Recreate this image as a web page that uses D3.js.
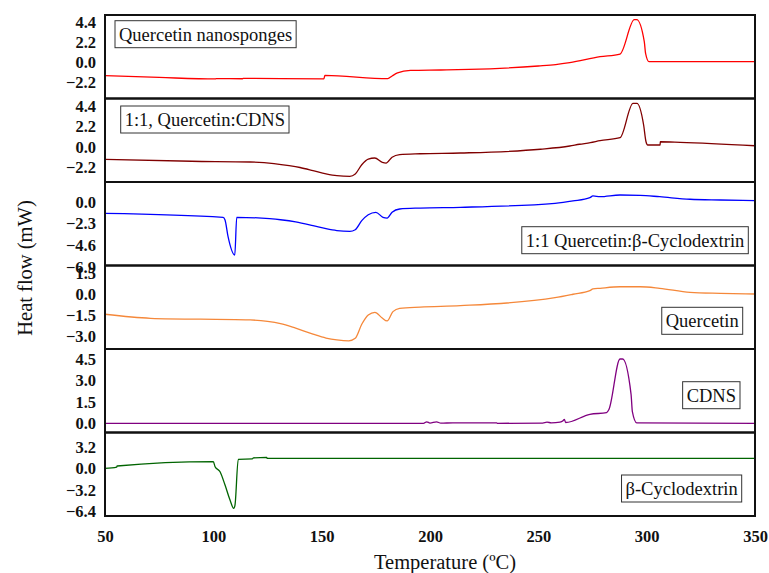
<!DOCTYPE html>
<html>
<head>
<meta charset="utf-8">
<script src="https://cdn.jsdelivr.net/npm/d3@7"></script>
<style>
  body { margin: 0; background: #fff; }
  text { font-family: "Liberation Serif", "Times New Roman", serif; }
</style>
</head>
<body>
<svg width="769" height="573"></svg>
<script>
// temperature ticks (°C)
const xTicks = [50, 100, 150, 200, 250, 300, 350];

// heat flow ticks for each panel, top to bottom
const yTicksNano = [-2.2, 0, 2.2, 4.4];
const yTicksQcdns = [-2.2, 0, 2.2, 4.4];
const yTicksQbcd = [-6.9, -4.6, -2.3, 0];
const yTicksQuer = [-3.0, -1.5, 0, 1.5];
const yTicksCdns = [0, 1.5, 3.0, 4.5];
const yTicksBcd = [-6.4, -3.2, 0, 3.2];

const seriesNames = [
  "Quercetin nanosponges",
  "1:1, Quercetin:CDNS",
  "1:1 Quercetin:\u03b2-Cyclodextrin",
  "Quercetin",
  "CDNS",
  "\u03b2-Cyclodextrin"
];

// [temperature, heat flow]
const nanoData = [[50,-1.45],[75,-1.64],[101,-1.80],[101.3,-1.76],[113.5,-1.78],[113.8,-1.73],[151,-1.80],[151.5,-1.42],
  [180.5,-1.77],[182.5,-1.48],[185,-1.15],[191,-0.88],[205,-0.83],[218,-0.77],[250,-0.40],[258,-0.25],[264.5,-0.04],
  [278.5,0.61],[287.7,0.90],[294.3,4.62],[295.4,4.62],[298.9,2.24],[299.5,0.98],[301.1,0.07],[350,0.07]];

const qcdnsData = [[50,-1.34],[90,-1.55],[117,-1.63],[128,-1.80],[135,-2.02],[140,-2.22],[146,-2.55],[152,-2.90],
  [157,-3.10],[163,-3.17],[165.5,-2.92],[168.5,-1.92],[171.5,-1.31],[174.5,-1.20],[178,-1.66],[179.7,-1.74],
  [182.5,-1.12],[186,-0.84],[195.5,-0.74],[214,-0.66],[251,-0.26],[264.5,0.09],[269,0.28],[274,0.45],[278.5,0.66],
  [287.7,0.98],[293.7,4.68],[295.5,4.68],[298.6,2.35],[299.7,0.55],[300.5,0.20],[306.2,0.20],[306.3,0.55],
  [315.5,0.49],[350,0.12]];

const qbcdData = [[50,-1.22],[104.5,-1.64],[105.4,-1.93],[106.8,-3.70],[109.9,-5.64],[110.8,-1.64],[126,-1.79],
  [131,-1.90],[138,-2.12],[146,-2.52],[152,-2.85],[157,-3.05],[163,-3.13],[165.5,-2.96],[168.5,-2.00],[171.5,-1.37],
  [175,-1.11],[178.3,-1.64],[180.2,-1.72],[182.5,-1.11],[186,-0.76],[195.5,-0.66],[214,-0.58],[257.7,-0.16],
  [266,0.09],[273.8,0.44],[275.2,0.62],[278.5,0.54],[287.7,0.72],[297,0.69],[306,0.54],[320,0.27],[334,0.19],
  [350,0.12]];

const querData = [[50,-1.45],[71,-1.74],[117,-1.86],[125,-1.96],[131,-2.12],[138,-2.45],[146,-2.88],[152,-3.16],
  [157,-3.30],[162.5,-3.37],[165.5,-3.18],[168.5,-2.17],[171.5,-1.50],[174.6,-1.31],[177.8,-1.70],[180.2,-1.93],
  [182.9,-1.26],[186,-1.02],[195.5,-0.93],[214,-0.83],[257.7,-0.26],[266,-0.01],[273.8,0.25],[275.2,0.37],
  [278.5,0.42],[287.7,0.53],[297,0.53],[306,0.42],[320,0.13],[334,0.06],[350,0.01]];

const cdnsData = [[50,0],[197,0],[198.5,0.11],[200,0.02],[203,0.11],[205,0.01],[210.6,0.04],[230.8,0.04],[231,0],
  [252,0.02],[254,0.08],[256,0.04],[260,0.08],[261.4,0.18],[262,0.28],[262.6,0.06],[273.8,0.63],[281.5,0.75],
  [282.6,0.98],[287.7,4.50],[288.9,4.50],[292.8,2.03],[293.4,0.82],[295.4,0.04],[350,0]];

const bcdData = [[50,0.06],[55.4,0.25],[55.6,0.40],[100,1.04],[100.8,0.30],[103.1,-0.45],[105.4,-2.44],[107.7,-4.67],
  [109.4,-5.91],[110,-5.42],[111.5,1.40],[118,1.45],[118.5,1.60],[124.6,1.70],[124.8,1.55],[350,1.55]];

const svg = d3.select("svg");

const plotLeft = 105, plotRight = 755, plotTop = 15, panelH = 83.5;

const x = d3.scaleLinear().domain([50, 350]).range([plotLeft, plotRight]);

const panels = [
  { data: nanoData, ticks: yTicksNano, domain: [-3.92, 5.13], color: "#ff0000",
    label: { x: 115, dy: 5.7, align: "left" } },
  { data: qcdnsData, ticks: yTicksQcdns, domain: [-3.78, 5.2], color: "#800000",
    label: { x: 120.7, dy: 7.5, align: "left" } },
  { data: qbcdData, ticks: yTicksQbcd, domain: [-6.75, 2.1], color: "#0000ff",
    label: { x: 748.3, dy: 44.7, align: "right" } },
  { data: querData, ticks: yTicksQuer, domain: [-3.95, 2.06], color: "#f5883a",
    label: { x: 742.7, dy: 41.8, align: "right" } },
  { data: cdnsData, ticks: yTicksCdns, domain: [-0.64, 5.2], color: "#800080",
    label: { x: 740, dy: 32.7, align: "right" } },
  { data: bcdData, ticks: yTicksBcd, domain: [-7.06, 5.4], color: "#006400",
    label: { x: 741.7, dy: 42.5, align: "right" } }
];

panels.forEach((p, i) => {
  const y0 = plotTop + i * panelH;
  const y = d3.scaleLinear().domain(p.domain).range([y0 + panelH, y0]);

  const yAxis = svg.append("g")
    .attr("transform", `translate(${plotLeft},0)`)
    .call(d3.axisLeft(y).tickValues(p.ticks).tickFormat(d3.format(".1f")).tickSize(0).tickPadding(9));
  yAxis.select(".domain").remove();
  yAxis.selectAll("text")
    .attr("font-size", "16.5px")
    .attr("font-weight", "bold")
    .attr("font-family", "Liberation Serif")
    .attr("fill", "#111");

  const line = d3.line()
    .x(d => x(d[0]))
    .y(d => y(d[1]))
    .curve(d3.curveMonotoneX);

  svg.append("path")
    .attr("d", line(p.data))
    .attr("fill", "none")
    .attr("stroke", p.color)
    .attr("stroke-width", 1.3);

  // label box
  const g = svg.append("g");
  const t = g.append("text")
    .attr("font-size", "18.5px")
    .attr("font-family", "Liberation Serif")
    .attr("fill", "#111")
    .text(seriesNames[i]);
  const w = t.node().getComputedTextLength() + 8;
  const bx = p.label.align === "left" ? p.label.x : p.label.x - w;
  const by = y0 + p.label.dy;
  t.attr("x", bx + 4).attr("y", by + 20);
  g.insert("rect", "text")
    .attr("x", bx)
    .attr("y", by)
    .attr("width", w)
    .attr("height", 27)
    .attr("fill", "#fff")
    .attr("stroke", "#333")
    .attr("stroke-width", 1);
});

// panel frames
panels.forEach((p, i) => {
  svg.append("rect")
    .attr("x", plotLeft)
    .attr("y", plotTop + i * panelH)
    .attr("width", plotRight - plotLeft)
    .attr("height", panelH)
    .attr("fill", "none")
    .attr("stroke", "#111")
    .attr("stroke-width", 2);
});

const xAxis = svg.append("g")
  .attr("transform", `translate(0,${plotTop + 6 * panelH})`)
  .call(d3.axisBottom(x).tickValues(xTicks).tickSize(0).tickPadding(14));
xAxis.select(".domain").remove();
xAxis.selectAll("text")
  .attr("font-size", "16.5px")
  .attr("font-weight", "bold")
  .attr("font-family", "Liberation Serif")
  .attr("fill", "#111");

svg.append("text")
  .attr("x", 445)
  .attr("y", 569)
  .attr("text-anchor", "middle")
  .attr("font-size", "20.5px")
  .attr("fill", "#111")
  .text("Temperature (\u00baC)");

svg.append("text")
  .attr("transform", "translate(32,268) rotate(-90)")
  .attr("text-anchor", "middle")
  .attr("font-size", "20.5px")
  .attr("fill", "#111")
  .text("Heat flow (mW)");
</script>
</body>
</html>
